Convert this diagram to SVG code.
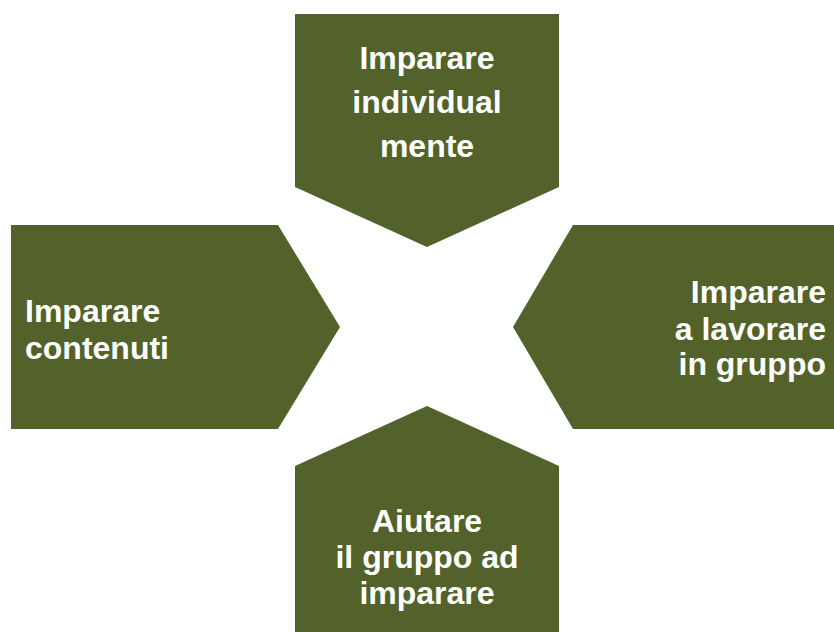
<svg xmlns="http://www.w3.org/2000/svg" width="834" height="632" viewBox="0 0 834 632">
<style>
.s{fill:#52622a}
.t{fill:#ffffff;font-family:"Liberation Sans",Arial,sans-serif;font-weight:bold;font-size:32px}
</style>
<rect width="834" height="632" fill="#ffffff"/>
<g id="top">
<polygon class="s" points="295,14 559,14 559,187 427,247 295,187"/>
<text class="t" text-anchor="middle"><tspan x="427" y="69">Imparare</tspan><tspan x="427" y="113">individual</tspan><tspan x="427" y="157">mente</tspan></text>
</g>
<g id="left">
<polygon class="s" points="11,225 278,225 340,327 278,429 11,429"/>
<text class="t"><tspan x="25" y="322">Imparare</tspan><tspan x="25" y="359">contenuti</tspan></text>
</g>
<g id="right">
<polygon class="s" points="513,327 573,225 834,225 834,429 573,429"/>
<text class="t" text-anchor="end"><tspan x="826" y="303">Imparare</tspan><tspan x="826" y="340">a lavorare</tspan><tspan x="826" y="375">in gruppo</tspan></text>
</g>
<g id="bottom">
<polygon class="s" points="427,406 559,466 559,632 295,632 295,466"/>
<text class="t" text-anchor="middle"><tspan x="427" y="532">Aiutare</tspan><tspan x="427" y="568">il gruppo ad</tspan><tspan x="427" y="604">imparare</tspan></text>
</g>
<g id="connectors"/>
</svg>
